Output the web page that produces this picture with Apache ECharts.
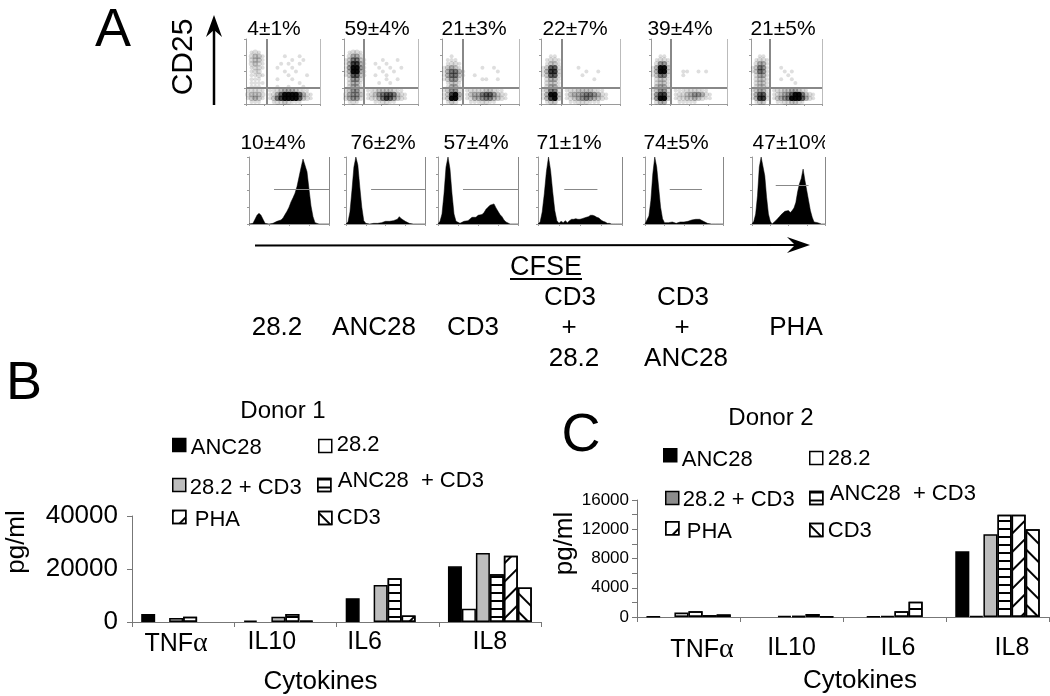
<!DOCTYPE html>
<html><head><meta charset="utf-8">
<script src="https://cdn.jsdelivr.net/npm/echarts@6/dist/echarts.min.js"></script>
<style>html,body{margin:0;padding:0;background:#fff}#c{width:1050px;height:696px}</style>
</head><body><div id="c"></div>
<script>
// ---------- bar chart data ----------
const cytokines = ['TNFα','IL10','IL6','IL8'];
const seriesNames = ['ANC28','28.2','28.2 + CD3','ANC28  + CD3','PHA','CD3'];
const d1Anc28   = [3000, 500, 9000, 21000];
const d1Cd28    = [null, null, null, 5000];
const d1Cd28Cd3 = [1500, 2000, 14000, 26000];
const d1AncCd3  = [2000, 3000, 16500, 18000];
const d1Pha     = [null, 500, 2500, 25000];
const d1Cd3     = [null, null, null, 13000];
const d2Anc28   = [50, null, null, 9000];
const d2Cd28    = [null, null, 100, 150];
const d2Cd28Cd3 = [600, 150, 150, 11300];
const d2AncCd3  = [800, 150, 800, 14000];
const d2Pha     = [250, 400, 2100, 14000];
const d2Cd3     = [350, 100, null, 12000];

// ---------- CD25 / CFSE dot-plot density (rows top to bottom, 0-9) ----------
const dot1 = ["00000000000000000000","00000000000000000000","00000000000000000000","01210000000000000000","02331000001000100000","02331000000010010000","02321000010100100000","01221000100010000000","01220000001001000000","01121000000100001000","01110000100010000000","01111000000000100000","01110000100100010000","12221011234443211000","23332012479999742100","13431013689999732100","01110001223211100000"];
const dot2 = ["00000000000000000000","00000000000000000000","00000000000000000000","01221000000000000000","02442000000000000000","13663100001000100000","14884100100100000000","15995100010010010000","14994100001001000000","13773100100100000000","02552000000100100000","02441000010010000000","02441000000000000000","13552011233332110000","24553012356776321000","24552012246875321000","01210000112211000000"];
const dot3 = ["00000000000000000000","00000000000000000000","00000000000000000000","00000000000000000000","00100000000000000000","01110000000000000000","01221000000000000000","13431000001001000000","14664100000000100000","14663100100000000000","13552000001100100000","01331000000000000000","01441000000000000000","13552012222332110000","13894013446775321000","13993012445664321000","01320001112211000000"];
const dot4 = ["00000000000000000000","00000000000000000000","00000000000000000000","00000000000000000000","00110000000000000000","01221000000000000000","01331000000000000000","13772000010000000000","14882000000100100000","13772000001000000000","02441000000001000000","02331000000000000000","02441000000000000000","13662012233332110000","14993013445665421000","14893012345654321000","01330001122211100000"];
const dot5 = ["00000000000000000000","00000000000000000000","00000000000000000000","00000000000000000000","00110000000000000000","01221000000000000000","02552000000000000000","14993000000000000000","14993000110010100000","13662000100000000000","02331000000000000000","02331000000000000000","03441000000000000000","13552011122221100000","15883012234554210000","15993012233432110000","02440001111100000000"];
const dot6 = ["00000000000000000000","00000000000000000000","00000000000000000000","00000000000000000000","00110000000000000000","01221000000000000000","02441000000000000000","13651000100000000000","13651000010100000000","02441000001000000000","02331000100100000000","02331000000010000000","02331000000000000000","13441012233443210000","14772012345799632100","14882013456999742100","01330001122332100000"];
const dotPercent = ['4±1%','59±4%','21±3%','22±7%','39±4%','21±5%'];

// ---------- CFSE histograms (height in % of panel, 41 channels) ----------
const hist1 = [0,0,1,7,13,16,13,7,1,0,0,1,1,2,4,3,6,9,14,19,25,33,39,46,56,70,84,97,99,78,52,27,11,2,0,0,0,0,0,0,0];
const hist2 = [0,3,18,50,85,100,88,55,25,5,1,0,0,1,1,1,1,2,2,2,4,4,4,5,5,5,7,11,8,6,4,2,1,0,0,0,0,0,0,0,0];
const hist3 = [0,4,15,45,85,100,82,45,15,4,2,1,3,4,4,5,7,10,11,10,13,12,14,17,22,25,28,30,30,24,19,14,11,6,3,1,0,0,0,0,0];
const hist4 = [0,3,18,45,78,100,80,48,20,5,1,4,2,5,2,5,7,7,8,7,7,8,9,10,11,13,13,12,10,9,6,4,3,1,1,0,0,0,0,0,0];
const hist5 = [0,2,12,35,75,100,85,55,25,8,2,1,2,2,3,3,1,1,3,3,3,4,4,5,6,7,7,8,7,5,4,2,1,1,0,0,0,0,0,0,0];
const hist6 = [0,4,15,42,85,100,100,72,40,15,4,0,0,5,8,11,14,13,19,17,20,17,20,24,32,48,60,68,82,65,50,35,20,10,3,1,2,0,0,0,0];
const histPercent = ['10±4%','76±2%','57±4%','71±1%','74±5%','47±10%'];
const histGateStart = [12.5,12.7,12.5,12.5,12.7,13];
const histGateEnd = [40,40,40,28.3,29.2,31];
const histGateLevel = [52,52,52,52,52,58];
const treatments = ['28.2','ANC28','CD3','CD3\n+\n28.2','CD3\n+\nANC28','PHA'];

// ---------- layout ----------
const FONT = '"Liberation Sans", Arial, sans-serif';
const dotBoxes = [[246,74,267],[344,74,364],[442,77,463],[541,79,562],[651,76,671],[751,71,770]];
const histBoxes = [[249,80],[346,79],[438,80],[538,84],[645,78],[752,73]];
const dotLabelX = [274,377,474,575,680,783];
const histLabelX = [273,383,476,569,676,791];
const treatX = [[277],[374],[473],[570,569,574],[683,682,686],[796]];
const dotOpacity = [0,0.13,0.14,0.22,0.3,0.4,0.5,0.62,0.75,0.95];

const grids=[],xAxes=[],yAxes=[],series=[];
function addGrid(g,x,y){grids.push(g);xAxes.push(Object.assign({gridIndex:grids.length-1},x));yAxes.push(Object.assign({gridIndex:grids.length-1},y));return grids.length-1;}
const grey='#9a9a9a';
const noSplit={show:false};
const miniAxis=(interval,max,min)=>({type:'value',min:min||0,max:max,interval:interval,axisLabel:{show:false},splitLine:noSplit,
  axisLine:{show:true,onZero:false,lineStyle:{color:grey,width:1}},axisTick:{show:true,length:2,lineStyle:{color:grey,width:1}}});
const gateStyle={silent:true,symbol:'none',animation:false,label:{show:false},emphasis:{disabled:true}};

[dot1,dot2,dot3,dot4,dot5,dot6].forEach((rows,i)=>{
  const [l,w,vx]=dotBoxes[i];
  const gi=addGrid({left:l,width:w,top:39,height:65},miniAxis(5,20),miniAxis(4.25,17));
  const pts=[];
  rows.forEach((r,ry)=>[...r].forEach((ch,cx)=>{const d=+ch;if(d>0)pts.push({value:[cx+0.5,16.5-ry,d],itemStyle:{opacity:dotOpacity[d]}});}));
  const vCol=(vx-l)/w*20;
  series.push({type:'scatter',xAxisIndex:gi,yAxisIndex:gi,data:pts,symbolSize:v=>v[2]===1?4:5.6,itemStyle:{color:'#000'},silent:true,
    markLine:Object.assign({},gateStyle,{lineStyle:{color:'#888',width:2,type:'solid'},data:[
      [{coord:[vCol,0]},{coord:[vCol,17]}],[{coord:[0,4.3]},{coord:[20,4.3]}],
    ]})});
  series.push({type:'line',xAxisIndex:gi,yAxisIndex:gi,data:[],silent:true,
    markLine:Object.assign({},gateStyle,{lineStyle:{color:'#bbb',width:1,type:'solid'},data:[[{coord:[20,0]},{coord:[20,17]}]]})});
});

[hist1,hist2,hist3,hist4,hist5,hist6].forEach((vals,i)=>{
  const [l,w]=histBoxes[i];
  const gi=addGrid({left:l,width:w,top:157,height:67},miniAxis(10,40),miniAxis(25,100));
  series.push({type:'line',xAxisIndex:gi,yAxisIndex:gi,data:vals.map((v,k)=>[k,v]),showSymbol:false,symbol:'none',silent:true,
    lineStyle:{color:'#000',width:0.5},itemStyle:{color:'#000'},areaStyle:{color:'#000',opacity:1},
    markLine:Object.assign({},gateStyle,{lineStyle:{color:'#888',width:1,type:'solid'},data:[
      [{coord:[histGateStart[i],histGateLevel[i]]},{coord:[histGateEnd[i],histGateLevel[i]]}],
      [{coord:[40,0]},{coord:[40,100]}],
    ]})});
});

// bar panels
const stripes={symbol:'rect',symbolSize:1,color:'#000',dashArrayX:[1,0],dashArrayY:[1.2,5.8],rotation:0};
const diagUp={symbol:'rect',symbolSize:1,color:'#000',dashArrayX:[1,0],dashArrayY:[1.7,11],rotation:-Math.PI/4};
const diagDown={symbol:'rect',symbolSize:1,color:'#000',dashArrayX:[1,0],dashArrayY:[1.7,11],rotation:Math.PI/4};
const styles=[{color:'#000'},{color:'#fff'},{color:'#bdbdbd'},{color:'#fff',decal:stripes},{color:'#fff',decal:diagUp},{color:'#fff',decal:diagDown}];

function labelFormatter(shifts){
  const rich={g:{fontFamily:'"Liberation Serif",serif',fontSize:28,padding:[0,Math.max(0,-2*shifts[0]),0,0]}};
  shifts.forEach((s,i)=>{rich['c'+i]={fontSize:25,fontFamily:FONT,color:'#000',padding:[0,i===0?0:Math.max(0,-2*s),0,Math.max(0,2*s)]};});
  return {rich,formatter:(v,i)=>{
    if(v.endsWith('α'))return `{c${i}|${v.slice(0,-1)}}{g|α}`;
    return `{c${i}|${v}}`;
  }};
}
function addBars(grid,yAx,shifts,margin,nameOpt,yNameOpt,sets,overrides){
  const lf=labelFormatter(shifts);
  const gi=addGrid(grid,{type:'category',data:cytokines,name:'Cytokines',nameLocation:'middle',nameGap:nameOpt.gap,
      nameTextStyle:{fontSize:26,fontFamily:FONT,color:'#000',padding:nameOpt.padding},
      axisLine:{show:true,lineStyle:{color:'#777',width:1}},axisTick:{show:true,length:5,lineStyle:{color:'#777'}},
      axisLabel:{interval:0,margin:margin,color:'#000',formatter:lf.formatter,rich:lf.rich},splitLine:noSplit},
    Object.assign({type:'value',min:0,name:'pg/ml',nameLocation:'middle',nameRotate:90,nameGap:yNameOpt.gap,
      nameTextStyle:{fontSize:26,fontFamily:FONT,color:'#000',padding:yNameOpt.padding},
      axisLine:{show:true,lineStyle:{color:'#777',width:1}},axisTick:{show:true,length:5,lineStyle:{color:'#777'}},splitLine:noSplit},yAx));
  sets.forEach((vals,k)=>{
    series.push({type:'bar',name:seriesNames[k],xAxisIndex:gi,yAxisIndex:gi,silent:true,
      barGap:0,barCategoryGap:'18%',
      data:vals.map((v,c)=>{const o=overrides&&overrides[k]&&overrides[k][c];return o?{value:v,itemStyle:o}:v;}),
      itemStyle:Object.assign({borderColor:'#000',borderWidth:1.5},styles[k])});
  });
}
addBars({left:132,width:409,top:516,height:107},
  {max:40000,interval:20000,axisLabel:{fontSize:26,fontFamily:FONT,color:'#000',margin:14,formatter:v=>String(v)}},
  [-7,-13.6,-23,0],8,{gap:47,padding:[0,32,0,0]},{gap:102,padding:[0,0,0,54]},
  [d1Anc28,d1Cd28,d1Cd28Cd3,d1AncCd3,d1Pha,d1Cd3]);
addBars({left:637,width:412,top:500,height:117},
  {max:16000,interval:2000,axisLabel:{fontSize:17,fontFamily:FONT,color:'#000',margin:8,formatter:v=>v%4000===0?String(v):''}},
  [13.5,0,3.5,14.5],19,{gap:51,padding:[0,0,0,34]},{gap:56,padding:[0,0,0,30]},
  [d2Anc28,d2Cd28,d2Cd28Cd3,d2AncCd3,d2Pha,d2Cd3],{4:{2:{decal:stripes,color:'#fff',borderColor:'#000',borderWidth:1.5}}});

// legends: one box per entry because the reference places them by hand
const legends=[];
function addLegend(name,k,sx,sy,dx,dy,gray){
  const st=Object.assign({borderColor:'#000',borderWidth:1.5},styles[k]);
  if(gray)st.color=gray;
  legends.push({show:true,selectedMode:false,data:[{name,icon:'rect',itemStyle:st}],
    left:sx,top:sy,padding:0,itemWidth:13,itemHeight:13,itemGap:0,
    formatter:'{t|{name}}',
    textStyle:{rich:{t:{fontSize:22,fontFamily:FONT,color:'#000',
      padding:[Math.max(0,2*dy),0,Math.max(0,-2*dy),dx]}}}});
}
const legendSpotsB=[[172,437,0,3],[318,434,0,-1],[172,477,-1,3],[317,470,2,-4],[172,509,4,3],[318,507,0,0]];
const legendSpotsC=[[663,448,0,5],[809,448,0,1],[665,489,-1,2],[809,483,2,-4],[665,521,3,4],[809,520,0,1]];
legendSpotsB.forEach((p,k)=>addLegend(seriesNames[k],k,p[0],p[1],p[2],p[3]));
legendSpotsC.forEach((p,k)=>addLegend(seriesNames[k],k,p[0],p[1],p[2],p[3],k===2?'#8c8c8c':null));

// free text and arrows of the figure
const txt=(text,x,y,size,extra)=>Object.assign({type:'text',x,y,silent:true,style:{text,fontSize:size,fontFamily:FONT,fill:'#000',textAlign:'center',textVerticalAlign:'middle'}},extra||{});
const graphics=[
  txt('A',113,31,54),txt('B',24,384,54),txt('C',581,436,54),
  txt('CD25',184,57,30,{rotation:Math.PI/2}),
  txt('CFSE',546,268,27),
  {type:'line',silent:true,shape:{x1:510,y1:279,x2:582,y2:279},style:{stroke:'#000',lineWidth:2}},
  {type:'line',silent:true,shape:{x1:255,y1:245.5,x2:795,y2:245},style:{stroke:'#000',lineWidth:2}},
  {type:'polygon',silent:true,shape:{points:[[810,245],[787,237],[795,245],[787,253]]},style:{fill:'#000'}},
  {type:'line',silent:true,shape:{x1:214,y1:105,x2:214,y2:30},style:{stroke:'#000',lineWidth:2.5}},
  {type:'polygon',silent:true,shape:{points:[[214,15],[206,37],[214,30],[222,37]]},style:{fill:'#000'}},
];
dotPercent.forEach((t,i)=>graphics.push(txt(t,dotLabelX[i],29,21)));
histPercent.forEach((t,i)=>graphics.push(txt(t,histLabelX[i],143,21)));
graphics.push({type:'rect',silent:true,shape:{x:825,y:130,width:40,height:26},style:{fill:'#fff'}});
treatments.forEach((t,i)=>{
  const parts=t.split('\n');
  parts.forEach((p,j)=>graphics.push(txt(p,treatX[i][j],328+(j-(parts.length-1)/2)*30.5,26)));
});

const chart=echarts.init(document.getElementById('c'),null,{renderer:'canvas'});
chart.setOption({
  animation:false,backgroundColor:'#fff',
  title:[
    {text:'Donor 1',left:283,top:411,textAlign:'center',textVerticalAlign:'middle',padding:0,textStyle:{fontSize:24,fontWeight:'normal',fontFamily:FONT,color:'#000'}},
    {text:'Donor 2',left:771,top:418,textAlign:'center',textVerticalAlign:'middle',padding:0,textStyle:{fontSize:24,fontWeight:'normal',fontFamily:FONT,color:'#000'}},
  ],
  legend:legends,grid:grids,xAxis:xAxes,yAxis:yAxes,series,
  graphic:{elements:graphics},
});
</script></body></html>
